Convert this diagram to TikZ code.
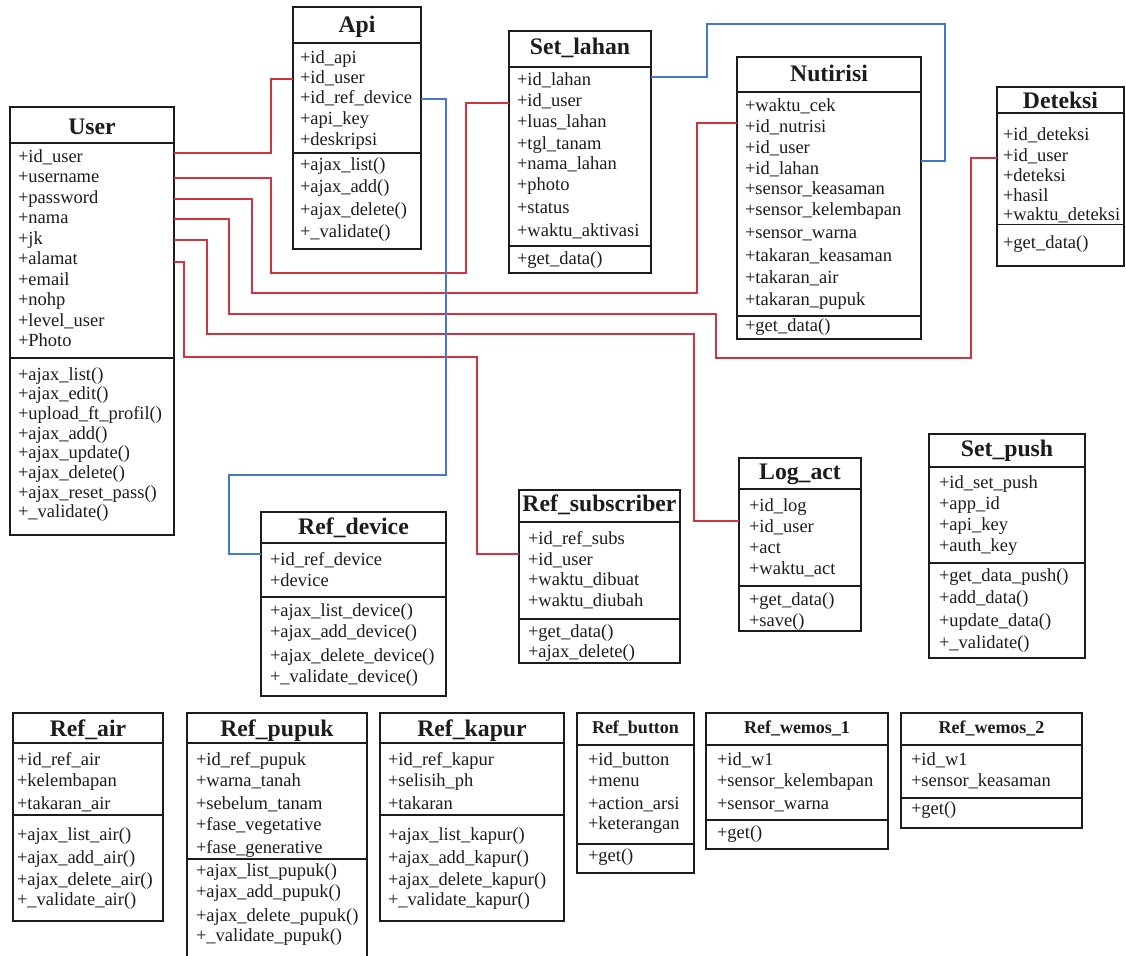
\documentclass[tikz,border=0pt]{standalone}
\usepackage{fontspec}
\setmainfont{Liberation Serif}
\definecolor{linkred}{RGB}{208,52,64}
\definecolor{linkblue}{RGB}{68,120,204}
\definecolor{ink}{RGB}{28,28,28}
\tikzset{
  box/.style={draw=ink, line width=1.8pt, inner sep=0pt, outer sep=0pt},
  sep/.style={draw=ink, line width=1.8pt},
  row/.style={inner sep=0pt, outer sep=0pt, text=ink, font=\fontsize{18.5}{20}\selectfont},
  ttl/.style={inner sep=0pt, outer sep=0pt, text=ink, font=\fontsize{23.7}{26}\selectfont\bfseries},
  ttls/.style={inner sep=0pt, outer sep=0pt, text=ink, font=\fontsize{18}{20}\selectfont\bfseries},
  redlink/.style={draw=linkred, line width=1.8pt},
  bluelink/.style={draw=linkblue, line width=1.8pt},
}
% frame of a class: name, x1, y1, x2, y2, first divider, second divider
\newcommand\classframe[7]{%
  \node[box, anchor=north west, minimum width={(#4-#2)*1pt}, minimum height={(#5-#3)*1pt}] (#1) at (#2,#3) {};
  \draw[sep] (#1.west |- 0,#6) -- (#1.east |- 0,#6);
  \draw[sep] (#1.west |- 0,#7) -- (#1.east |- 0,#7);
}
% title: name, style, baseline, text
\newcommand\classtitle[4]{%
  \node[#2, anchor=base] (#1-title) at (#1.north |- 0,#3) {#4};
}
% rows: prefix, left x, list of baseline/text
\newcommand\classrows[3]{%
  \foreach \yy/\txt [count=\k] in {#3}
    \node[row, anchor=base west] (#1-\k) at (#2,\yy) {\txt};
}
\begin{document}
\begin{tikzpicture}[x=1pt,y=-1pt]
\useasboundingbox (0,0) rectangle (1126,955);
\fill[white] (0,0) rectangle (1126,955);
\clip (0,0) rectangle (1126,955);

% ---------- User ----------
\classframe{user}{10}{107}{174}{535}{143}{358}
\classtitle{user}{ttl}{134}{User}
\classrows{user-a}{18}{162/+id\_user,182.5/+username,203/+password,223.5/+nama,244/+jk,264.5/+alamat,285/+email,305.5/+nohp,326/+level\_user,346.5/+Photo}
\classrows{user-m}{18}{380/+ajax\_list(),399.7/+ajax\_edit(),419.4/+upload\_ft\_profil(),439.1/+ajax\_add(),458.8/+ajax\_update(),478.5/+ajax\_delete(),498.2/+ajax\_reset\_pass(),517.9/+\_validate()}

% ---------- Api ----------
\classframe{api}{293}{7}{421}{249}{43}{153}
\classtitle{api}{ttl}{33}{Api}
\classrows{api-a}{300}{64/+id\_api,84/+id\_user,104/+id\_ref\_device,124.5/+api\_key,145/+deskripsi}
\classrows{api-m}{300}{170/+ajax\_list(),192.5/+ajax\_add(),215/+ajax\_delete(),237.5/+\_validate()}

% ---------- Set_lahan ----------
\classframe{setlahan}{509}{31}{651}{273}{67}{246}
\classtitle{setlahan}{ttl}{55}{Set\_lahan}
\classrows{setlahan-a}{517}{86/+id\_lahan,106.7/+id\_user,127.7/+luas\_lahan,149/+tgl\_tanam,169/+nama\_lahan,190/+photo,213/+status,236/+waktu\_aktivasi}
\classrows{setlahan-m}{517}{264/+get\_data()}

% ---------- Nutirisi ----------
\classframe{nutrisi}{737}{57}{921}{339}{92}{316}
\classtitle{nutrisi}{ttl}{82}{Nutirisi}
\classrows{nutrisi-a}{745}{111.7/+waktu\_cek,132.3/+id\_nutrisi,153.3/+id\_user,174/+id\_lahan,194/+sensor\_keasaman,215/+sensor\_kelembapan,238.3/+sensor\_warna,261.7/+takaran\_keasaman,283.3/+takaran\_air,305/+takaran\_pupuk}
\classrows{nutrisi-m}{745}{331.7/+get\_data()}

% ---------- Deteksi ----------
\classframe{deteksi}{997}{87}{1124}{266}{113}{224.5}
\classtitle{deteksi}{ttl}{108.7}{Deteksi}
\classrows{deteksi-a}{1003}{140.2/+id\_deteksi,161.2/+id\_user,181.2/+deteksi,201.2/+hasil,220.2/+waktu\_deteksi}
\classrows{deteksi-m}{1003}{248.3/+get\_data()}

% ---------- Ref_device ----------
\classframe{refdev}{261}{512}{446}{696}{543}{597}
\classtitle{refdev}{ttl}{534}{Ref\_device}
\classrows{refdev-a}{270}{565.7/+id\_ref\_device,586.7/+device}
\classrows{refdev-m}{270}{616/+ajax\_list\_device(),637.3/+ajax\_add\_device(),661.7/+ajax\_delete\_device(),682.7/+\_validate\_device()}

% ---------- Ref_subscriber ----------
\classframe{refsub}{519}{490}{680}{663}{522}{619}
\classtitle{refsub}{ttl}{511.3}{Ref\_subscriber}
\classrows{refsub-a}{528}{544.3/+id\_ref\_subs,565/+id\_user,585/+waktu\_dibuat,606.7/+waktu\_diubah}
\classrows{refsub-m}{528}{637.3/+get\_data(),657.7/+ajax\_delete()}

% ---------- Log_act ----------
\classframe{logact}{739}{458}{861}{631}{489}{586}
\classtitle{logact}{ttl}{479.7}{Log\_act}
\classrows{logact-a}{749}{511.7/+id\_log,532.3/+id\_user,553.3/+act,574.3/+waktu\_act}
\classrows{logact-m}{749}{605/+get\_data(),626/+save()}

% ---------- Set_push ----------
\classframe{setpush}{929}{434}{1085}{658}{467}{563}
\classtitle{setpush}{ttl}{456.3}{Set\_push}
\classrows{setpush-a}{939}{488.3/+id\_set\_push,509.3/+app\_id,530/+api\_key,551/+auth\_key}
\classrows{setpush-m}{939}{581.7/+get\_data\_push(),603.3/+add\_data(),626.7/+update\_data(),648.3/+\_validate()}

% ---------- Ref_air ----------
\classframe{refair}{13}{713}{163}{921}{743}{815}
\classtitle{refair}{ttl}{736}{Ref\_air}
\classrows{refair-a}{17}{765.3/+id\_ref\_air,786.3/+kelembapan,809/+takaran\_air}
\classrows{refair-m}{17}{840/+ajax\_list\_air(),863.3/+ajax\_add\_air(),885.7/+ajax\_delete\_air(),905.7/+\_validate\_air()}

% ---------- Ref_pupuk ----------
\classframe{refpupuk}{187}{713}{367}{962}{743}{859}
\classtitle{refpupuk}{ttl}{736}{Ref\_pupuk}
\classrows{refpupuk-a}{196}{765.3/+id\_ref\_pupuk,786.3/+warna\_tanah,809/+sebelum\_tanam,830.3/+fase\_vegetative,853.7/+fase\_generative}
\classrows{refpupuk-m}{196}{876.7/+ajax\_list\_pupuk(),897.3/+ajax\_add\_pupuk(),921.3/+ajax\_delete\_pupuk(),941.3/+\_validate\_pupuk()}

% ---------- Ref_kapur ----------
\classframe{refkapur}{380}{713}{564}{921}{743}{815}
\classtitle{refkapur}{ttl}{736}{Ref\_kapur}
\classrows{refkapur-a}{388}{765.3/+id\_ref\_kapur,786.3/+selisih\_ph,809/+takaran}
\classrows{refkapur-m}{388}{840/+ajax\_list\_kapur(),863.3/+ajax\_add\_kapur(),885.7/+ajax\_delete\_kapur(),905.7/+\_validate\_kapur()}

% ---------- Ref_button ----------
\classframe{refbutton}{577}{713}{694}{873}{745}{844}
\classtitle{refbutton}{ttls}{733.3}{Ref\_button}
\classrows{refbutton-a}{588}{765.3/+id\_button,786.3/+menu,809/+action\_arsi,829.7/+keterangan}
\classrows{refbutton-m}{588}{861/+get()}

% ---------- Ref_wemos_1 ----------
\classframe{wemosa}{706}{713}{888}{849}{745}{820}
\classtitle{wemosa}{ttls}{733.3}{Ref\_wemos\_1}
\classrows{wemosa-a}{717}{765.3/+id\_w1,786.3/+sensor\_kelembapan,809/+sensor\_warna}
\classrows{wemosa-m}{717}{838.5/+get()}

% ---------- Ref_wemos_2 ----------
\classframe{wemosb}{901}{713}{1082}{828}{745}{798}
\classtitle{wemosb}{ttls}{733.3}{Ref\_wemos\_2}
\classrows{wemosb-a}{911}{765.3/+id\_w1,786.3/+sensor\_keasaman}
\classrows{wemosb-m}{911}{814.5/+get()}

% ---------- relations from User ----------
\draw[redlink] (user.east |- 0,153) -| (271,79) -- (api.west |- 0,79);
\draw[redlink] (user.east |- 0,178) -| (271,273) -| (466,103) -- (setlahan.west |- 0,103);
\draw[redlink] (user.east |- 0,199) -| (252,293) -| (697,123) -- (nutrisi.west |- 0,123);
\draw[redlink] (user.east |- 0,219) -| (229,314) -| (716,358) -| (971,158) -- (deteksi.west |- 0,158);
\draw[redlink] (user.east |- 0,240) -| (207,334) -| (694,521) -- (logact.west |- 0,521);
\draw[redlink] (user.east |- 0,262) -| (184,357) -| (477,554) -- (refsub.west |- 0,554);

% ---------- other relations ----------
\draw[bluelink] (api.east |- 0,99) -| (446,475) -| (229,554) -- (refdev.west |- 0,554);
\draw[bluelink] (setlahan.east |- 0,77) -| (707,24) -| (945,161) -- (nutrisi.east |- 0,161);
\end{tikzpicture}
\end{document}
